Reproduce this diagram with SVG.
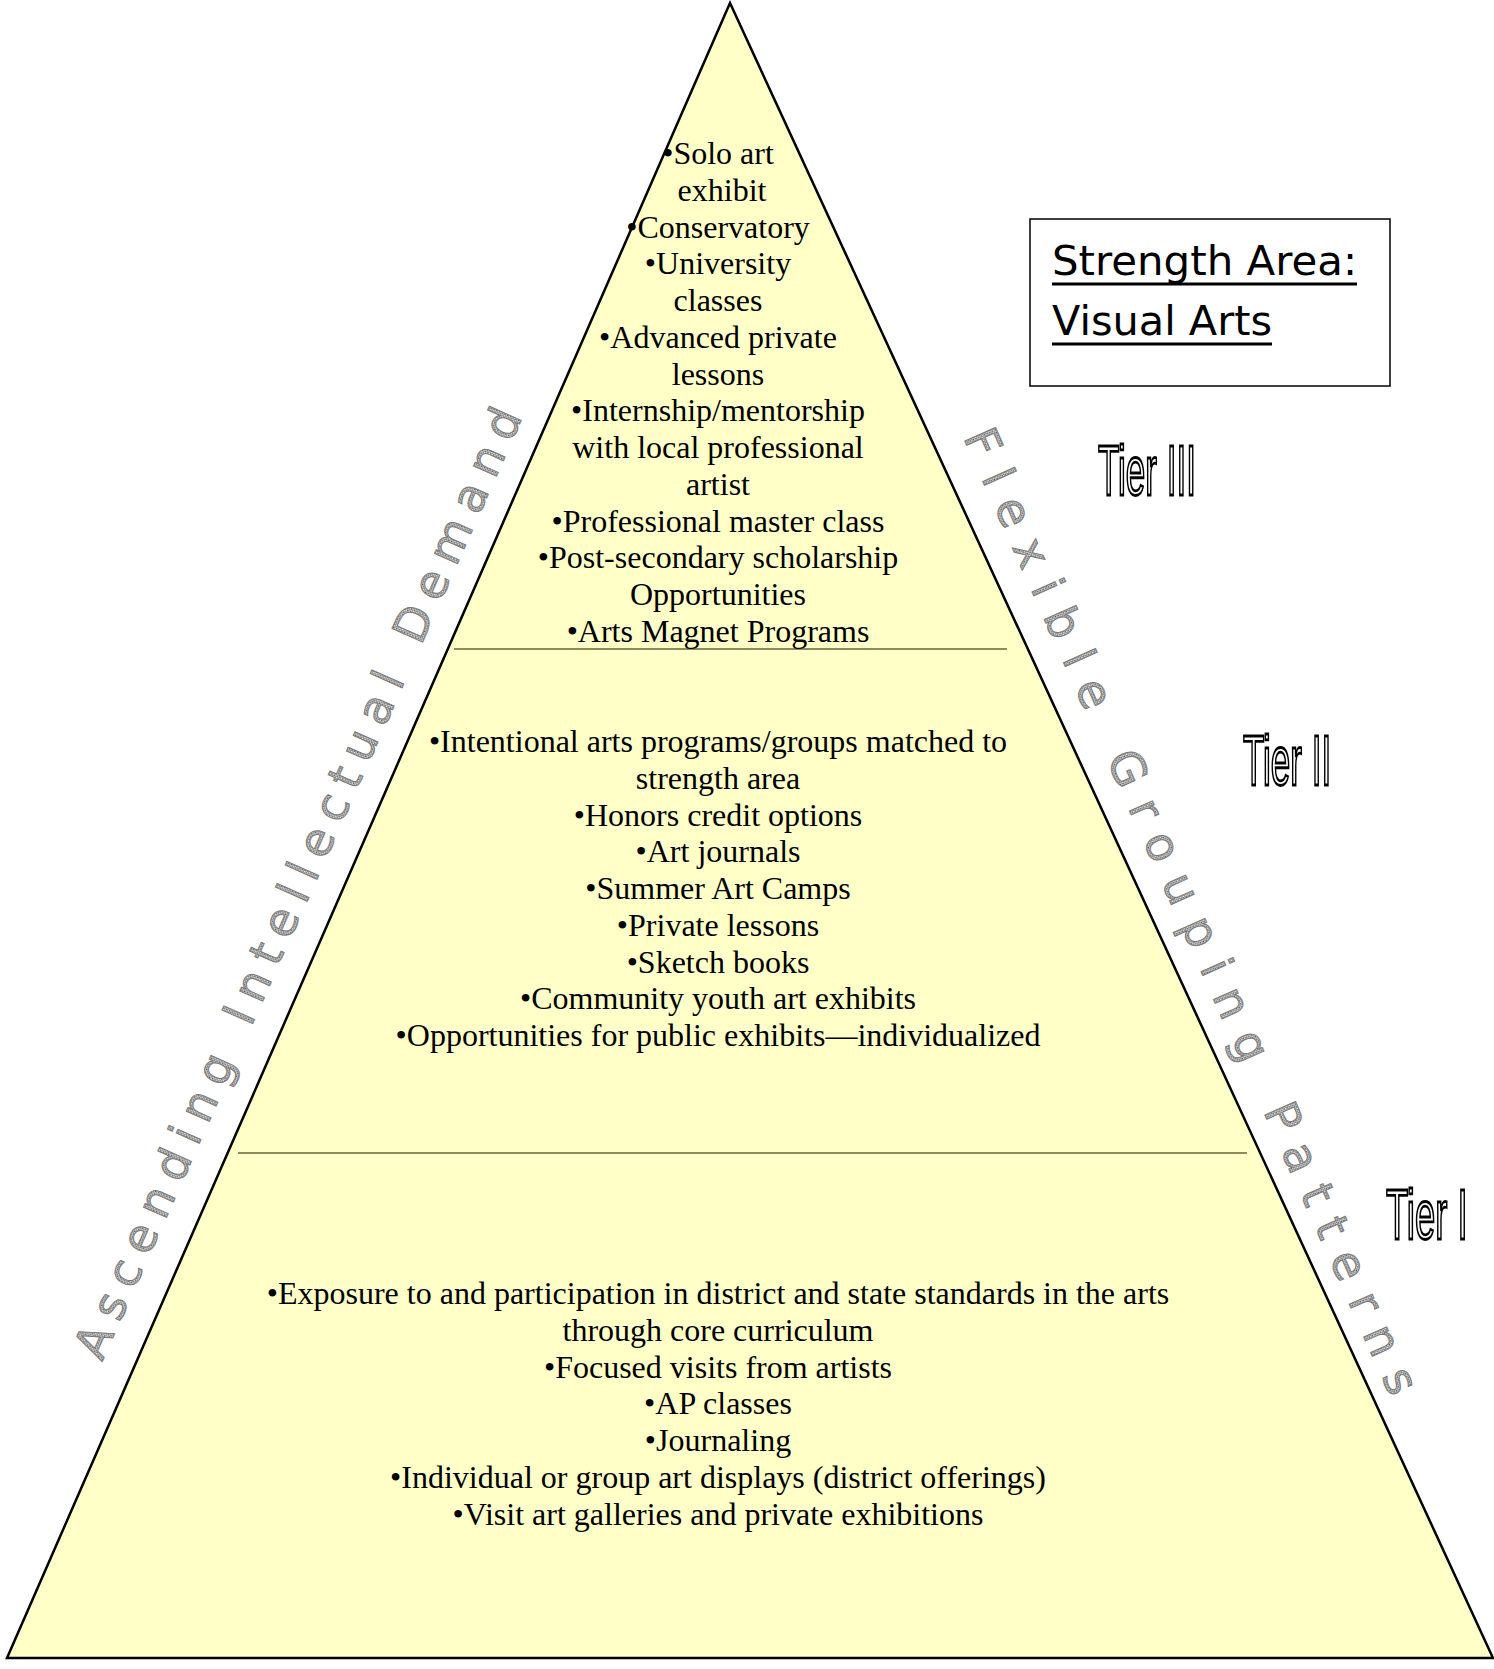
<svg xmlns="http://www.w3.org/2000/svg" width="1494" height="1669" viewBox="0 0 1494 1669">
  <defs>
    <!-- stippled grey fill for the side captions -->
    <pattern id="stipple" width="3" height="3" patternUnits="userSpaceOnUse">
      <rect width="3" height="3" fill="#e8e8e8"/>
      <rect x="0" y="0" width="1.5" height="1.5" fill="#555"/>
      <rect x="1.5" y="1.5" width="1.5" height="1.5" fill="#777"/>
    </pattern>
    <style>
      .item { font-family: "Liberation Serif", "Times New Roman", serif; font-size: 32px; fill: #000; text-anchor: middle; }
      .side { font-family: "DejaVu Sans", "Liberation Sans", sans-serif; font-size: 46px; fill: url(#stipple); stroke: #7a7a7a; stroke-width: 1; }
      .tier { font-family: "Liberation Sans", Arial, sans-serif; font-size: 70px; fill: #fff; stroke: #000; stroke-width: 2.2; vector-effect: non-scaling-stroke; }
      .title { font-family: "DejaVu Sans", "Comic Sans MS", sans-serif; font-size: 40px; fill: #000; }
      .divider { stroke: #8c8c5a; stroke-width: 2; }
    </style>
  </defs>

  <rect width="1494" height="1669" fill="#fff"/>

  <!-- pyramid body -->
  <g id="pyramid">
    <polygon points="730,3 7,1658 1493,1658" fill="#ffffc8" stroke="#000" stroke-width="2.5" stroke-linejoin="miter"/>
  </g>

  <!-- tier dividers -->
  <g id="connectors">
    <line class="divider" x1="454" y1="649" x2="1007" y2="649"/>
    <line class="divider" x1="238" y1="1153" x2="1247" y2="1153"/>
  </g>

  <!-- Tier III contents -->
  <g id="tier3-list">
    <text class="item" x="718" y="164">•Solo art</text>
    <text class="item" x="722" y="201">exhibit</text>
    <text class="item" x="718" y="238">•Conservatory</text>
    <text class="item" x="718" y="274">•University</text>
    <text class="item" x="718" y="311">classes</text>
    <text class="item" x="718" y="348">•Advanced private</text>
    <text class="item" x="718" y="385">lessons</text>
    <text class="item" x="718" y="421">•Internship/mentorship</text>
    <text class="item" x="718" y="458">with local professional</text>
    <text class="item" x="718" y="495">artist</text>
    <text class="item" x="718" y="532">•Professional master class</text>
    <text class="item" x="718" y="568">•Post-secondary scholarship</text>
    <text class="item" x="718" y="605">Opportunities</text>
    <text class="item" x="718" y="642">•Arts Magnet Programs</text>
  </g>

  <!-- Tier II contents -->
  <g id="tier2-list">
    <text class="item" x="718" y="752">•Intentional arts programs/groups matched to</text>
    <text class="item" x="718" y="789">strength area</text>
    <text class="item" x="718" y="826">•Honors credit options</text>
    <text class="item" x="718" y="862">•Art journals</text>
    <text class="item" x="718" y="899">•Summer Art Camps</text>
    <text class="item" x="718" y="936">•Private lessons</text>
    <text class="item" x="718" y="973">•Sketch books</text>
    <text class="item" x="718" y="1009">•Community youth art exhibits</text>
    <text class="item" x="718" y="1046">•Opportunities for public exhibits—individualized</text>
  </g>

  <!-- Tier I contents -->
  <g id="tier1-list">
    <text class="item" x="718" y="1304">•Exposure to and participation in district and state standards in the arts</text>
    <text class="item" x="718" y="1341">through core curriculum</text>
    <text class="item" x="718" y="1378">•Focused visits from artists</text>
    <text class="item" x="718" y="1414">•AP classes</text>
    <text class="item" x="718" y="1451">•Journaling</text>
    <text class="item" x="718" y="1488">•Individual or group art displays (district offerings)</text>
    <text class="item" x="718" y="1525">•Visit art galleries and private exhibitions</text>
  </g>

  <!-- side captions running along the slopes -->
  <g id="caption-left">
    <text class="side" transform="translate(102,1362) rotate(-66)" x="0" y="0" textLength="1035" lengthAdjust="spacing">Ascending Intellectual Demand</text>
  </g>
  <g id="caption-right">
    <text class="side" transform="translate(963,437) rotate(66)" x="0" y="0" textLength="1052" lengthAdjust="spacing">Flexible Grouping Patterns</text>
  </g>

  <!-- tier labels -->
  <g id="label-tier3">
    <text class="tier" transform="translate(1098,495) scale(0.5,1)">Tier III</text>
  </g>
  <g id="label-tier2">
    <text class="tier" transform="translate(1243,785) scale(0.5,1)">Tier II</text>
  </g>
  <g id="label-tier1">
    <text class="tier" transform="translate(1386,1239) scale(0.52,1)">Tier I</text>
  </g>

  <!-- strength area title box -->
  <g id="title-box">
    <rect x="1030" y="219" width="360" height="167" fill="#fff" stroke="#000" stroke-width="1.5"/>
    <text class="title" x="1052" y="275" textLength="305" lengthAdjust="spacingAndGlyphs">Strength Area:</text>
    <line x1="1052" y1="284" x2="1357" y2="284" stroke="#000" stroke-width="3"/>
    <text class="title" x="1052" y="335" textLength="220" lengthAdjust="spacingAndGlyphs">Visual Arts</text>
    <line x1="1052" y1="344" x2="1272" y2="344" stroke="#000" stroke-width="3"/>
  </g>
</svg>
